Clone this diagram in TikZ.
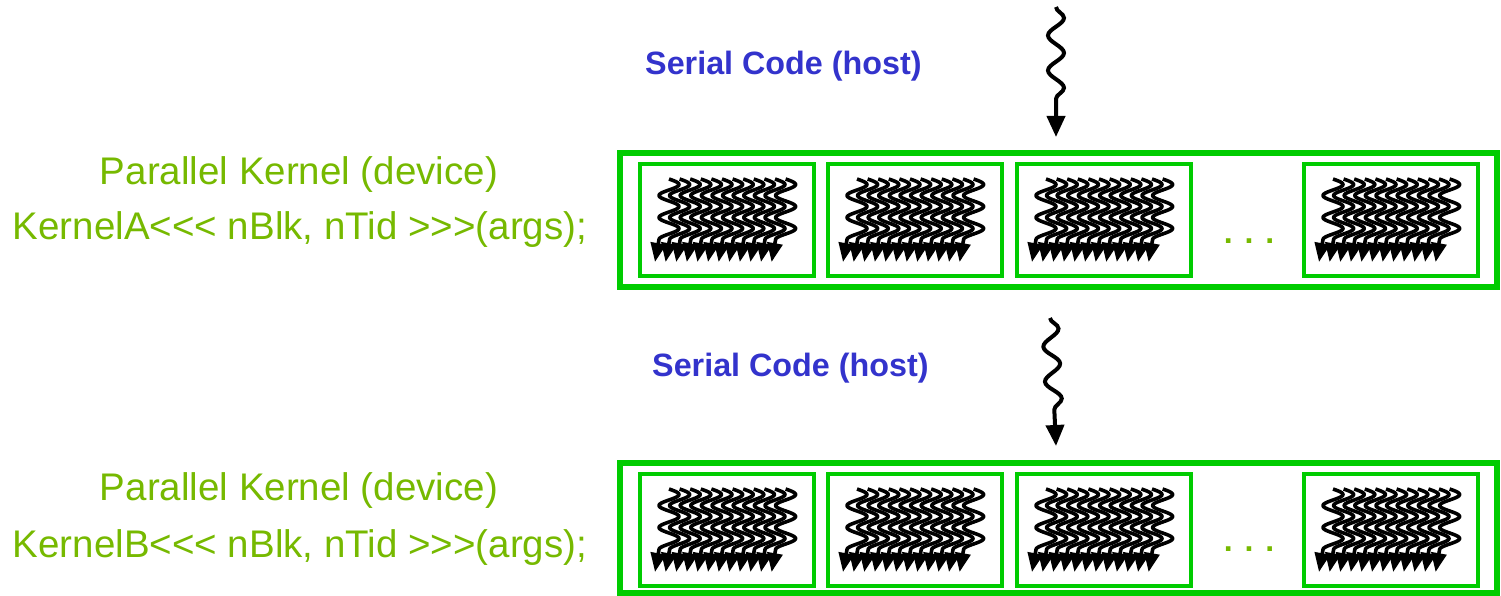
\documentclass[tikz,border=0pt]{standalone}
\usepackage{fontspec}
\setmainfont{Liberation Sans}[Ligatures=TeXOff]
\usetikzlibrary{arrows.meta,decorations.pathmorphing}

\definecolor{kernelgreen}{RGB}{118,185,0}
\definecolor{framegreen}{RGB}{0,204,0}
\definecolor{hostblue}{RGB}{51,51,204}

% one block of 12 threads, drawn relative to the block's top-left corner
% (wave period 22pt: 360/22 = 16.364 degrees per pt)
\newcommand\threadgrid[1]{%
  \begin{scope}[shift={(#1.north west)}]
    \foreach \k in {0,...,11}{
      \pgfmathsetmacro\xc{29+\k*10.6}
      \draw[thread] plot[variable=\t, domain=0:60.5, samples=80, smooth]
        ({\xc+10*sin(16.364*\t)},{15+\t}) -- (\xc-14,98);
    }
  \end{scope}}

\begin{document}
\begin{tikzpicture}[x=1pt,y=-1pt,
  outerframe/.style={draw=framegreen,line width=6pt,minimum width=877pt,anchor=north west,inner sep=0pt,outer sep=0pt},
  blockframe/.style={draw=framegreen,line width=4pt,minimum width=174pt,minimum height=112pt,anchor=north west,inner sep=0pt,outer sep=0pt},
  kernellabel/.style={text=kernelgreen,font=\fontsize{38.5}{46}\selectfont,anchor=base,inner sep=0pt},
  hostlabel/.style={text=hostblue,font=\bfseries\fontsize{32.3}{39}\selectfont,anchor=base west,inner sep=0pt},
  ellipsis/.style={text=kernelgreen,font=\bfseries\fontsize{32}{38}\selectfont,anchor=base,inner sep=0pt},
  thread/.style={line width=3.6pt,line join=round,-{Triangle[length=19pt,width=15pt]}},
  hostflow/.style={line width=4pt,-{Triangle[length=21pt,width=18pt]},
    decorate,decoration={snake,amplitude=8pt,segment length=35pt,post length=24pt}},
]
\useasboundingbox (0,0) rectangle (1501,596);

% ---------- first kernel ----------
\node[hostlabel] (hostA) at (645,74.5) {Serial Code (host)};
\coordinate (srcA) at (1056,7);
\coordinate (tipA) at (1056,137);
\draw[hostflow] (srcA) -- (tipA);

\node[kernellabel] (titleA) at (299,185) {Parallel Kernel (device)};
\node[kernellabel] (callA) at (300,239) {KernelA<<< nBlk, nTid >>>(args);};

\node[outerframe,minimum height=134pt] (gridA) at (620,153) {};
\node[blockframe] (a1) at (640,164) {};
\node[blockframe] (a2) at (828,164) {};
\node[blockframe] (a3) at (1017,164) {};
\node[blockframe] (a4) at (1304,164) {};
\node[ellipsis] (dotsA) at (1249,243) {. . .};
\threadgrid{a1}\threadgrid{a2}\threadgrid{a3}\threadgrid{a4}

% ---------- second kernel ----------
\node[hostlabel] (hostB) at (652,376) {Serial Code (host)};
\coordinate (srcB) at (1050,318);
\coordinate (tipB) at (1056,446);
\draw[hostflow] (srcB) -- (tipB);

\node[kernellabel] (titleB) at (299,500) {Parallel Kernel (device)};
\node[kernellabel] (callB) at (300,557) {KernelB<<< nBlk, nTid >>>(args);};

\node[outerframe,minimum height=130pt] (gridB) at (620,463) {};
\node[blockframe] (b1) at (640,474) {};
\node[blockframe] (b2) at (828,474) {};
\node[blockframe] (b3) at (1017,474) {};
\node[blockframe] (b4) at (1304,474) {};
\node[ellipsis] (dotsB) at (1249,551) {. . .};
\threadgrid{b1}\threadgrid{b2}\threadgrid{b3}\threadgrid{b4}
\end{tikzpicture}
\end{document}
